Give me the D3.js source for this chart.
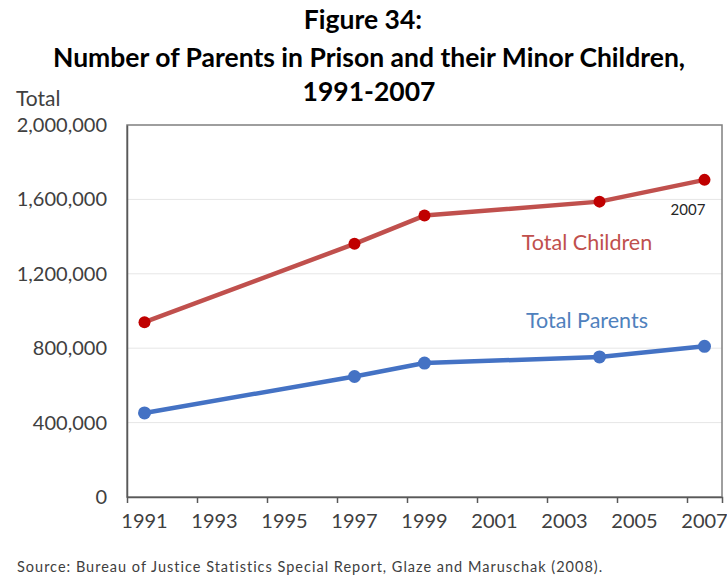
<!DOCTYPE html>
<html>
<head>
<meta charset="utf-8">
<script src="https://cdn.jsdelivr.net/npm/d3@7"></script>
<style>
  body { margin: 0; background: #fff; }
  text { font-family: Lato, "Open Sans", sans-serif; }
</style>
</head>
<body>
<script>
const years = [1991, 1997, 1999, 2004, 2007];
const totalChildren = [940000, 1361000, 1513000, 1588000, 1705000];
const totalParents = [452000, 648000, 720000, 753000, 810000];
const yTicks = [0, 400000, 800000, 1200000, 1600000, 2000000];
const xLabels = [1991, 1993, 1995, 1997, 1999, 2001, 2003, 2005, 2007];

const width = 727, height = 581;
const margin = { top: 125, right: 5, bottom: 84, left: 127 };

const svg = d3.select('body').append('svg')
  .attr('width', width)
  .attr('height', height);

const x = d3.scaleLinear()
  .domain([1990.5, 2007.5])
  .range([margin.left, width - margin.right]);

const y = d3.scaleLinear()
  .domain([0, 2000000])
  .range([height - margin.bottom, margin.top]);

// titles
const title = svg.append('g').attr('font-weight', 'bold').attr('fill', '#000')
  .attr('text-anchor', 'middle');
title.append('text').attr('x', 363).attr('y', 29).attr('font-size', 26.5).text('Figure 34:');
title.append('text').attr('x', 369).attr('y', 67).attr('font-size', 26.5)
  .text('Number of Parents in Prison and their Minor Children,');
title.append('text').attr('x', 369).attr('y', 101).attr('font-size', 26.5).text('1991-2007');

svg.append('text').attr('x', 16).attr('y', 106)
  .attr('font-size', 21).attr('fill', '#404040').text('Total');

// gridlines
svg.append('g')
  .selectAll('line')
  .data(yTicks.filter(d => d > 0 && d < 2000000))
  .join('line')
  .attr('x1', x.range()[0]).attr('x2', x.range()[1])
  .attr('y1', d => y(d)).attr('y2', d => y(d))
  .attr('stroke', '#e6e6e6').attr('stroke-width', 1);

// plot frame
svg.append('rect')
  .attr('x', x.range()[0]).attr('y', y.range()[1])
  .attr('width', x.range()[1] - x.range()[0])
  .attr('height', y.range()[0] - y.range()[1])
  .attr('fill', 'none').attr('stroke', '#7f7f7f').attr('stroke-width', 1.5);

// y axis
const yAxis = svg.append('g')
  .attr('transform', `translate(${margin.left},0)`)
  .call(d3.axisLeft(y).tickValues(yTicks).tickSize(0).tickPadding(20)
    .tickFormat(d3.format(',')));
yAxis.select('.domain').attr('stroke', '#595959').attr('stroke-width', 1.5);
yAxis.selectAll('text').attr('font-size', 20).attr('fill', '#404040')
  .attr('font-family', 'Lato, sans-serif');

// x axis: ticks between labels
const xAxis = svg.append('g')
  .attr('transform', `translate(0,${height - margin.bottom})`)
  .call(d3.axisBottom(x).tickValues(d3.range(1992.5, 2007, 2)).tickSize(6).tickFormat(''));
xAxis.select('.domain').attr('stroke', '#595959').attr('stroke-width', 1.5);
xAxis.selectAll('.tick line').attr('stroke', '#595959').attr('stroke-width', 1.5);

svg.append('g')
  .selectAll('text')
  .data(xLabels)
  .join('text')
  .attr('x', d => x(d))
  .attr('y', height - margin.bottom + 31)
  .attr('text-anchor', 'middle')
  .attr('font-size', 20).attr('fill', '#404040')
  .text(d => d);

const line = d3.line()
  .x(d => x(d[0]))
  .y(d => y(d[1]));

function series(values, lineColor, dotColor, r) {
  const pts = years.map((yr, i) => [yr, values[i]]);
  svg.append('path')
    .datum(pts)
    .attr('d', line)
    .attr('fill', 'none')
    .attr('stroke', lineColor)
    .attr('stroke-width', 4.5)
    .attr('stroke-linejoin', 'round');
  svg.append('g')
    .selectAll('circle')
    .data(pts)
    .join('circle')
    .attr('cx', d => x(d[0]))
    .attr('cy', d => y(d[1]))
    .attr('r', r)
    .attr('fill', dotColor);
}

series(totalChildren, '#c0504d', '#c00000', 6);
series(totalParents, '#4472c4', '#4472c4', 6.5);

svg.append('text').attr('x', 587).attr('y', 250).attr('text-anchor', 'middle')
  .attr('font-size', 21.5).attr('fill', '#c0504d').text('Total Children');
svg.append('text').attr('x', 587).attr('y', 328).attr('text-anchor', 'middle')
  .attr('font-size', 21.5).attr('fill', '#4f81bd').text('Total Parents');
svg.append('text').attr('x', 688).attr('y', 215).attr('text-anchor', 'middle')
  .attr('font-size', 15).attr('fill', '#262626').text('2007');

svg.append('text').attr('x', 17).attr('y', 572)
  .attr('font-size', 14.5).attr('letter-spacing', 1).attr('fill', '#404040')
  .text('Source: Bureau of Justice Statistics Special Report, Glaze and Maruschak (2008).');
</script>
</body>
</html>
